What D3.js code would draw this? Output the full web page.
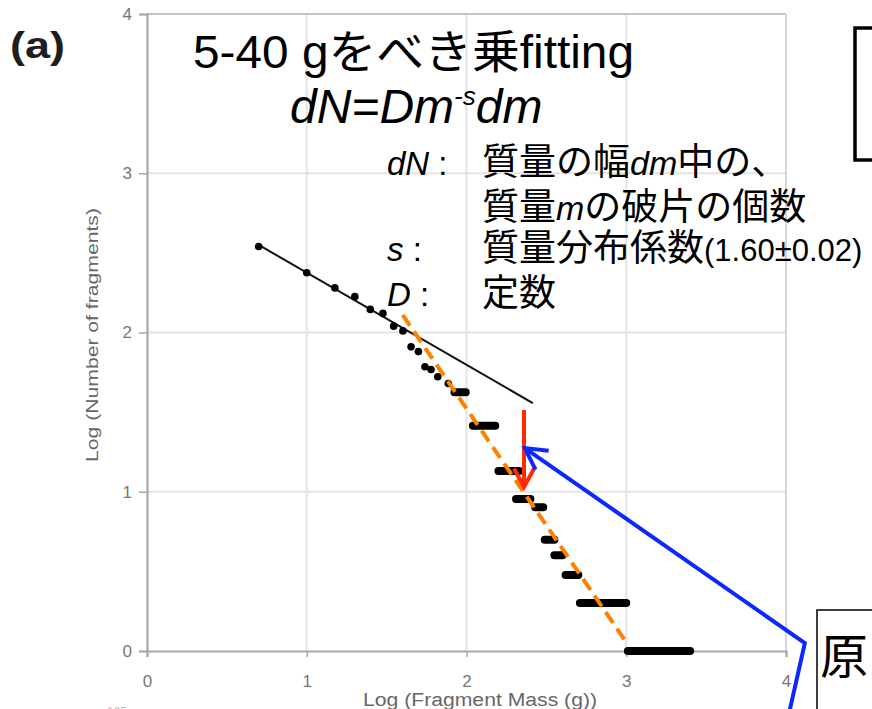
<!DOCTYPE html>
<html><head><meta charset="utf-8">
<script src="https://cdn.jsdelivr.net/npm/d3@7"></script>
<style>
html,body{margin:0;padding:0;background:#fff;}
svg{display:block;}
text{font-family:"Liberation Sans",Arial,"Noto Sans CJK JP",sans-serif;}
</style></head>
<body>
<script>
// ---- data (log10 values) ----
const xTicks = [0, 1, 2, 3, 4];
const yTicks = [0, 1, 2, 3, 4];
const pointLogMass  = [0.699, 1.0, 1.176, 1.301, 1.398, 1.477, 1.544, 1.602, 1.653, 1.699, 1.740, 1.778, 1.820, 1.886];
const pointLogCount = [2.54, 2.375, 2.28, 2.225, 2.145, 2.12, 2.04, 2.01, 1.91, 1.88, 1.785, 1.768, 1.722, 1.68];
// dense runs of points at the same count (start mass, end mass, count)
const runStart = [1.925, 2.04, 2.20, 2.31, 2.43, 2.49, 2.55, 2.62, 2.71, 3.01];
const runEnd   = [1.995, 2.18, 2.33, 2.40, 2.48, 2.55, 2.60, 2.70, 3.00, 3.40];
const runLevel = [1.625, 1.415, 1.13, 0.955, 0.903, 0.699, 0.602, 0.477, 0.301, 0.0];
// power-law fit 5-40 g (black) and steep trend (orange)
const fitX = [0.699, 2.415];
const fitY = [2.55, 1.557];
const trendX = [1.60, 3.01];
const trendY = [2.11, 0.04];
// annotation arrows (data coords)
const redArrowX = [2.36, 2.36];
const redArrowY = [1.513, 1.03];
const blueArrowX = [4.017, 4.118, 2.365];
const blueArrowY = [-0.40, 0.05, 1.274];

const W = 872, H = 709;
const svg = d3.select("body").append("svg").attr("width", W).attr("height", H);

const x = d3.scaleLinear().domain([0, 4]).range([147, 786]);
const y = d3.scaleLinear().domain([0, 4]).range([651, 14]);

// grid
const g = svg.append("g");
g.selectAll(".vg").data(xTicks.filter(d => d > 0 && d < 4)).enter().append("line")
  .attr("x1", d => x(d)).attr("x2", d => x(d)).attr("y1", y(4)).attr("y2", y(0))
  .attr("stroke", "#e4e4e4").attr("stroke-width", 2);
g.selectAll(".hg").data(yTicks.filter(d => d > 0 && d < 4)).enter().append("line")
  .attr("y1", d => y(d)).attr("y2", d => y(d)).attr("x1", x(0)).attr("x2", x(4))
  .attr("stroke", "#e4e4e4").attr("stroke-width", 2);
// frame
g.append("line").attr("x1", x(0)).attr("x2", x(4)).attr("y1", y(4)).attr("y2", y(4)).attr("stroke", "#b0b0b0").attr("stroke-width", 1.5);
g.append("line").attr("x1", x(4)).attr("x2", x(4)).attr("y1", y(4)).attr("y2", y(0)).attr("stroke", "#c8c8c8").attr("stroke-width", 1.5);

// axes
const xAxis = d3.axisBottom(x).tickValues(xTicks).tickSize(6).tickPadding(27).tickFormat(d3.format("d"));
const yAxis = d3.axisLeft(y).tickValues(yTicks).tickSize(8).tickPadding(7).tickFormat(d3.format("d"));
const gx = svg.append("g").attr("transform", `translate(0,${y(0)})`).call(xAxis);
const gy = svg.append("g").attr("transform", `translate(${x(0)},0)`).call(yAxis);
[gx, gy].forEach(a => {
  a.attr("font-size", null).attr("font-family", null);
  a.select(".domain").attr("stroke", "#a8a8a8").attr("stroke-width", 2.2);
  a.selectAll(".tick line").attr("stroke", "#a8a8a8").attr("stroke-width", 1.5);
  a.selectAll(".tick text").attr("fill", "#777").style("font-size", "17px");
});
gx.selectAll(".tick text").attr("dy", "0.15em");

svg.append("text").attr("x", 480).attr("y", 706).attr("text-anchor", "middle")
  .attr("fill", "#666").style("font-size", "18px").attr("textLength", 234).attr("lengthAdjust", "spacingAndGlyphs")
  .text("Log (Fragment Mass (g))");
svg.append("text").attr("transform", "translate(98,335) rotate(-90)").attr("text-anchor", "middle")
  .attr("fill", "#666").style("font-size", "17px").attr("textLength", 254).attr("lengthAdjust", "spacingAndGlyphs")
  .text("Log (Number of fragments)");
svg.append("text").attr("x", 107).attr("y", 716).attr("fill", "#bbb").style("font-size", "12px").text("105");

// panel label
svg.append("text").attr("x", 10).attr("y", 58).style("font-size", "37px").attr("font-weight", "bold")
  .attr("fill", "#1e1e1e").attr("textLength", 55).attr("lengthAdjust", "spacingAndGlyphs").text("(a)");

// annotation text
const t1 = svg.append("text").attr("x", 193).attr("y", 68).style("font-size", "46px").attr("fill", "#000")
  .attr("textLength", 441).attr("lengthAdjust", "spacingAndGlyphs");
t1.append("tspan").text("5-40 g");
t1.append("tspan").text("をべき乗");
t1.append("tspan").text("fitting");

const t2 = svg.append("text").attr("x", 290).attr("y", 123).style("font-size", "48px").attr("font-style", "italic").attr("fill", "#000");
t2.append("tspan").text("dN=Dm");
t2.append("tspan").style("font-size", "26px").attr("dy", -18).text("-s");
t2.append("tspan").attr("dy", 18).text("dm");

const defs = [
  {lab: "dN", y: 175, parts: [["質量の幅", ""], ["dm", "i"], ["中の、", ""]]},
  {lab: "", y: 220, parts: [["質量", ""], ["m", "i"], ["の破片の個数", ""]]},
  {lab: "s", y: 261, parts: [["質量分布係数", ""], ["(1.60±0.02)", "s"]]},
  {lab: "D", y: 306, parts: [["定数", ""]]}
];
defs.forEach(d => {
  if (d.lab) {
    const lt = svg.append("text").attr("x", 387).attr("y", d.y).style("font-size", "33px").attr("fill", "#000");
    lt.append("tspan").attr("font-style", "italic").text(d.lab);
    lt.append("tspan").text(" :");
  }
  const t = svg.append("text").attr("x", 482).attr("y", d.y).style("font-size", "37px").attr("fill", "#000");
  d.parts.forEach(p => {
    const s = t.append("tspan").text(p[0]);
    if (p[1] === "i") s.attr("font-style", "italic").style("font-size", "34px");
    if (p[1] === "s") s.style("font-size", "31px");
  });
});

// fit line
svg.append("line").attr("x1", x(fitX[0])).attr("y1", y(fitY[0])).attr("x2", x(fitX[1])).attr("y2", y(fitY[1]))
  .attr("stroke", "#111").attr("stroke-width", 2);

// data points
svg.selectAll(".pt").data(pointLogMass).enter().append("circle")
  .attr("cx", d => x(d)).attr("cy", (d, i) => y(pointLogCount[i])).attr("r", 3.8).attr("fill", "#000");
svg.selectAll(".run").data(runStart).enter().append("line")
  .attr("x1", d => x(d)).attr("x2", (d, i) => x(runEnd[i]))
  .attr("y1", (d, i) => y(runLevel[i])).attr("y2", (d, i) => y(runLevel[i]))
  .attr("stroke", "#000").attr("stroke-width", 8).attr("stroke-linecap", "round");

// orange dashed trend
svg.append("line").attr("x1", x(trendX[0])).attr("y1", y(trendY[0])).attr("x2", x(trendX[1])).attr("y2", y(trendY[1]))
  .attr("stroke", "#ff8000").attr("stroke-width", 4).attr("stroke-dasharray", "13,7");

// arrows
function arrowHead(tipX, tipY, fromX, fromY, len, ang) {
  const dx = fromX - tipX, dy = fromY - tipY, L = Math.hypot(dx, dy);
  const ux = dx / L, uy = dy / L;
  const pts = [ang, -ang].map(a => [tipX + len * (ux * Math.cos(a) - uy * Math.sin(a)), tipY + len * (ux * Math.sin(a) + uy * Math.cos(a))]);
  return `M${pts[0][0]},${pts[0][1]}L${tipX},${tipY}L${pts[1][0]},${pts[1][1]}`;
}
const line = d3.line();
const rp = redArrowX.map((d, i) => [x(d), y(redArrowY[i])]);
svg.append("path").attr("d", line(rp)).attr("fill", "none").attr("stroke", "#ff2a00").attr("stroke-width", 4);
svg.append("path").attr("d", arrowHead(rp[1][0], rp[1][1], rp[0][0], rp[0][1], 21, 0.5))
  .attr("fill", "none").attr("stroke", "#ff2a00").attr("stroke-width", 4);
const bp = blueArrowX.map((d, i) => [x(d), y(blueArrowY[i])]);
svg.append("path").attr("d", line(bp)).attr("fill", "none").attr("stroke", "#0a28ff").attr("stroke-width", 4);
svg.append("path").attr("d", arrowHead(bp[2][0], bp[2][1], bp[1][0], bp[1][1], 24, 0.5))
  .attr("fill", "none").attr("stroke", "#0a28ff").attr("stroke-width", 4);

// side boxes
svg.append("rect").attr("x", 855).attr("y", 28).attr("width", 60).attr("height", 132)
  .attr("fill", "none").attr("stroke", "#000").attr("stroke-width", 3.5);
svg.append("rect").attr("x", 817).attr("y", 610).attr("width", 80).attr("height", 140)
  .attr("fill", "#fff").attr("stroke", "#000").attr("stroke-width", 1.5);
svg.append("text").attr("x", 820).attr("y", 674).style("font-size", "48px").attr("fill", "#000").text("原");
</script>
</body></html>
